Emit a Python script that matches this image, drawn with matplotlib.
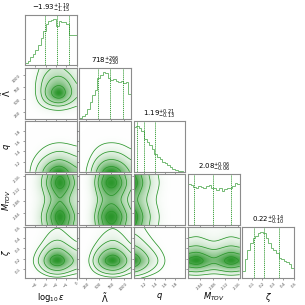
import numpy as np
import matplotlib
matplotlib.use('Agg')
import matplotlib.pyplot as plt
from matplotlib.colors import LinearSegmentedColormap

# parameters of the corner plot
labels = [r'$\log_{10}\epsilon$', r'$\tilde{\Lambda}$', r'$q$', r'$M_{TOV}$', r'$\zeta$']
ranges = [(-5.0, 0.0), (110.0, 1145.0), (1.0, 1.99), (2.0, 2.167), (0.01, 0.50)]
tick_values = [[-4, -3, -2, -1, 0],
               [250, 500, 750, 1000],
               [1.2, 1.4, 1.6, 1.8],
               [2.04, 2.08, 2.12, 2.16],
               [0.1, 0.2, 0.3, 0.4, 0.5]]
tick_labels = [['\u22124', '\u22123', '\u22122', '\u22121', '0'],
               ['250', '500', '750', '1000'],
               ['1.2', '1.4', '1.6', '1.8'],
               ['2.04', '2.08', '2.12', '2.16'],
               ['0.1', '0.2', '0.3', '0.4', '0.5']]

# title numbers (median, +err, -err)
medians = [-1.93, 718, 1.19, 2.08, 0.22]
err_plus = [1.19, 266, 0.21, 0.06, 0.14]
err_minus = [1.15, 230, 0.13, 0.06, 0.10]
title_fmt = ['{:.2f}', '{:.0f}', '{:.2f}', '{:.2f}', '{:.2f}']

# 1d histograms, 20 bins (relative heights)
hist_eps = [0.04, 0.10, 0.17, 0.25, 0.33, 0.45, 0.60, 0.75, 0.90, 0.96,
            0.98, 1.00, 0.85, 0.96, 0.95, 0.94, 0.90, 0.66, 0.66, 0.66]
hist_lam = [0.02, 0.05, 0.10, 0.20, 0.35, 0.50, 0.62, 0.88, 0.95, 1.00,
            0.98, 0.87, 0.84, 0.86, 0.82, 0.80, 0.82, 0.77, 0.80, 0.54]
hist_q = [0.97, 1.00, 0.95, 0.88, 0.72, 0.65, 0.58, 0.50, 0.38, 0.33,
          0.27, 0.22, 0.18, 0.14, 0.10, 0.07, 0.04, 0.02, 0.01, 0.005]
hist_mtov = [0.98, 0.96, 0.92, 0.90, 0.94, 0.92, 0.90, 0.94, 0.96, 0.88,
             0.90, 0.84, 0.88, 0.82, 0.86, 0.90, 0.88, 0.94, 1.00, 0.98]
hist_zeta = [0.16, 0.41, 0.62, 0.76, 0.87, 0.91, 0.98, 1.00, 0.98, 0.87,
             0.76, 0.66, 0.62, 0.55, 0.44, 0.41, 0.37, 0.34, 0.30, 0.23]
hists = [hist_eps, hist_lam, hist_q, hist_mtov, hist_zeta]
hist_top = [1.1, 1.1, 1.1, 1.22, 1.1]

# 2d densities on a 7x7 grid, rows from top of panel to bottom
dens_lam_eps = [[0.2, 1.0, 2.5, 3.2, 3.4, 2.8, 1.8],
                [0.3, 1.4, 3.2, 4.2, 4.6, 3.9, 2.6],
                [0.3, 1.6, 3.6, 5.2, 6.2, 4.8, 3.2],
                [0.3, 1.6, 3.7, 6.6, 9.5, 5.5, 3.4],
                [0.25, 1.3, 3.0, 4.5, 5.0, 4.0, 2.8],
                [0.12, 0.6, 1.3, 1.8, 2.0, 1.7, 1.2],
                [0.03, 0.12, 0.25, 0.3, 0.35, 0.3, 0.25]]
dens_q_eps = [[0.0, 0.02, 0.05, 0.07, 0.08, 0.07, 0.05],
              [0.01, 0.07, 0.14, 0.22, 0.25, 0.22, 0.17],
              [0.03, 0.22, 0.45, 0.7, 0.8, 0.7, 0.55],
              [0.08, 0.6, 1.25, 1.9, 2.2, 1.9, 1.5],
              [0.15, 1.1, 2.3, 3.4, 4.0, 3.4, 2.6],
              [0.25, 1.9, 4.0, 6.0, 7.0, 5.8, 4.4],
              [0.3, 2.5, 5.5, 8.5, 10.0, 8.0, 6.0]]
dens_q_lam = [[0.0, 0.01, 0.05, 0.07, 0.08, 0.06, 0.04],
              [0.01, 0.05, 0.15, 0.24, 0.25, 0.2, 0.13],
              [0.02, 0.15, 0.5, 0.75, 0.8, 0.65, 0.42],
              [0.05, 0.42, 1.35, 2.1, 2.2, 1.8, 1.15],
              [0.09, 0.75, 2.5, 3.8, 4.0, 3.3, 2.1],
              [0.15, 1.3, 4.3, 6.7, 7.0, 5.7, 3.6],
              [0.2, 1.8, 6.0, 9.5, 10.0, 8.0, 5.0]]
dens_mtov_eps = [[0.26, 1.7, 3.8, 6.4, 8.5, 6.8, 4.25],
                 [0.3, 2.0, 4.5, 7.5, 10.0, 8.0, 5.0],
                 [0.26, 1.7, 3.8, 6.4, 8.5, 6.8, 4.25],
                 [0.22, 1.44, 3.24, 5.4, 7.2, 5.76, 3.6],
                 [0.26, 1.7, 3.8, 6.4, 8.5, 6.8, 4.25],
                 [0.3, 2.0, 4.5, 7.5, 10.0, 8.0, 5.0],
                 [0.26, 1.76, 3.96, 6.6, 8.8, 7.04, 4.4]]
dens_mtov_lam = [[0.17, 1.53, 5.1, 8.08, 8.5, 6.8, 4.25],
                 [0.2, 1.8, 6.0, 9.5, 10.0, 8.0, 5.0],
                 [0.17, 1.53, 5.1, 8.08, 8.5, 6.8, 4.25],
                 [0.14, 1.3, 4.32, 6.84, 7.2, 5.76, 3.6],
                 [0.17, 1.53, 5.1, 8.08, 8.5, 6.8, 4.25],
                 [0.2, 1.8, 6.0, 9.5, 10.0, 8.0, 5.0],
                 [0.18, 1.58, 5.28, 8.36, 8.8, 7.04, 4.4]]
dens_mtov_q = [[8.5, 5.95, 3.4, 1.87, 0.68, 0.21, 0.07],
               [10.0, 7.0, 4.0, 2.2, 0.8, 0.25, 0.08],
               [8.5, 5.95, 3.4, 1.87, 0.68, 0.21, 0.07],
               [7.2, 5.04, 2.88, 1.58, 0.58, 0.18, 0.06],
               [8.5, 5.95, 3.4, 1.87, 0.68, 0.21, 0.07],
               [10.0, 7.0, 4.0, 2.2, 0.8, 0.25, 0.08],
               [8.8, 6.16, 3.52, 1.94, 0.7, 0.22, 0.07]]
dens_zeta_eps = [[0.05, 0.36, 0.86, 1.62, 1.8, 1.26, 0.86],
                 [0.08, 0.52, 1.25, 2.34, 2.6, 1.82, 1.25],
                 [0.12, 0.8, 1.92, 3.6, 4.0, 2.8, 1.92],
                 [0.21, 1.4, 3.36, 6.3, 7.0, 4.9, 3.36],
                 [0.3, 2.0, 4.8, 9.0, 10.0, 7.0, 4.8],
                 [0.18, 1.2, 2.88, 5.4, 6.0, 4.2, 2.88],
                 [0.02, 0.16, 0.38, 0.72, 0.8, 0.56, 0.38]]
dens_zeta_lam = [[0.03, 0.27, 0.9, 1.53, 1.8, 1.35, 0.72],
                 [0.04, 0.39, 1.3, 2.21, 2.6, 1.95, 1.04],
                 [0.06, 0.6, 2.0, 3.4, 4.0, 3.0, 1.6],
                 [0.11, 1.05, 3.5, 5.95, 7.0, 5.25, 2.8],
                 [0.15, 1.5, 5.0, 8.5, 10.0, 7.5, 4.0],
                 [0.09, 0.9, 3.0, 5.1, 6.0, 4.5, 2.4],
                 [0.01, 0.12, 0.4, 0.68, 0.8, 0.6, 0.32]]
dens_zeta_q = [[1.8, 1.26, 0.72, 0.4, 0.14, 0.05, 0.01],
               [2.6, 1.82, 1.04, 0.57, 0.21, 0.07, 0.02],
               [4.0, 2.8, 1.6, 0.88, 0.32, 0.1, 0.03],
               [7.0, 4.9, 2.8, 1.54, 0.56, 0.18, 0.06],
               [10.0, 7.0, 4.0, 2.2, 0.8, 0.25, 0.08],
               [6.0, 4.2, 2.4, 1.32, 0.48, 0.15, 0.05],
               [0.8, 0.56, 0.32, 0.18, 0.06, 0.02, 0.01]]
dens_zeta_mtov = [[1.58, 1.8, 1.53, 1.3, 1.53, 1.8, 1.53],
                  [2.29, 2.6, 2.21, 1.87, 2.21, 2.6, 2.21],
                  [3.52, 4.0, 3.4, 2.88, 3.4, 4.0, 3.4],
                  [6.16, 7.0, 5.95, 5.04, 5.95, 7.0, 5.95],
                  [8.8, 10.0, 8.5, 7.2, 8.5, 10.0, 8.5],
                  [5.28, 6.0, 5.1, 4.32, 5.1, 6.0, 5.1],
                  [0.7, 0.8, 0.68, 0.58, 0.68, 0.8, 0.68]]

densities = {
    (1, 0): dens_lam_eps,
    (2, 0): dens_q_eps, (2, 1): dens_q_lam,
    (3, 0): dens_mtov_eps, (3, 1): dens_mtov_lam, (3, 2): dens_mtov_q,
    (4, 0): dens_zeta_eps, (4, 1): dens_zeta_lam, (4, 2): dens_zeta_q, (4, 3): dens_zeta_mtov,
}

color = '#2a962a'
density_cmap = LinearSegmentedColormap.from_list('density_cmap', [(1, 1, 1, 0), color])


def smooth_grid(grid, n=61, sigma=4.0):
    g = np.array(grid, dtype=float)[::-1]
    src = np.linspace(0, 1, g.shape[0])
    dst = np.linspace(0, 1, n)
    g = np.array([np.interp(dst, src, row) for row in g])
    g = np.array([np.interp(dst, src, col) for col in g.T]).T
    r = int(3 * sigma)
    k = np.exp(-0.5 * (np.arange(-r, r + 1) / sigma) ** 2)
    k /= k.sum()
    p = np.pad(g, r, mode='edge')
    p = np.apply_along_axis(lambda v: np.convolve(v, k, mode='valid'), 0, p)
    p = np.apply_along_axis(lambda v: np.convolve(v, k, mode='valid'), 1, p)
    return p


def sigma_levels(d):
    fracs = 1.0 - np.exp(-0.5 * np.arange(0.5, 2.1, 0.5) ** 2)
    flat = np.sort(d.ravel())[::-1]
    cum = np.cumsum(flat)
    cum /= cum[-1]
    return sorted(flat[np.searchsorted(cum, f)] for f in fracs)


def style_axis(ax, i, j, n):
    for s in ax.spines.values():
        s.set_color('0.55')
        s.set_linewidth(0.8)
    ax.tick_params(length=1.5, width=0.4, pad=0.8, labelsize=2.8, colors='0.3')
    ax.set_xticks(tick_values[j])
    if i == n - 1:
        ax.set_xticklabels(tick_labels[j], rotation=45)
        ax.set_xlabel(labels[j], fontsize=6.0)
        ax.xaxis.set_label_coords(0.5, -0.25)
    else:
        ax.set_xticklabels([])
    if i != j:
        ax.set_yticks(tick_values[i])
        if j == 0:
            ax.set_yticklabels(tick_labels[i], rotation=45)
            ax.set_ylabel(labels[i], fontsize=6.0)
            ax.yaxis.set_label_coords(-0.23, 0.5)
        else:
            ax.set_yticklabels([])


n = len(labels)
fig, axes = plt.subplots(n, n, figsize=(3.05, 3.05), dpi=100)
plt.subplots_adjust(left=0.082, right=0.964, bottom=0.088, top=0.952, wspace=0.05, hspace=0.05)

for i in range(n):
    for j in range(n):
        ax = axes[i, j]
        if j > i:
            ax.axis('off')
            continue
        if i == j:
            lo, hi = ranges[i]
            edges = np.linspace(lo, hi, len(hists[i]) + 1)
            ax.stairs(hists[i], edges, color=color, lw=0.7, alpha=0.65)
            ax.set_ylim(0, hist_top[i] * max(hists[i]))
            ax.set_yticks([])
            m = medians[i]
            for v in [m - err_minus[i], m, m + err_plus[i]]:
                ax.axvline(v, color=color, ls='--', lw=0.6, dashes=(1.5, 1.0))
            f = title_fmt[i]
            title = r'${}^{{+{}}}_{{-{}}}$'.format(f.format(m), f.format(err_plus[i]), f.format(err_minus[i]))
            ax.set_title(title, fontsize=5.0, pad=0.5)
        else:
            d = smooth_grid(densities[(i, j)])
            x0, x1 = ranges[j]
            y0, y1 = ranges[i]
            ax.imshow(d, origin='lower', extent=[x0, x1, y0, y1], aspect='auto',
                      cmap=density_cmap, vmin=0, vmax=d.max(), interpolation='bilinear')
            X, Y = np.meshgrid(np.linspace(x0, x1, d.shape[1]), np.linspace(y0, y1, d.shape[0]))
            ax.contour(X, Y, d, sigma_levels(d), colors=color, linewidths=0.55)
            ax.set_ylim(y0, y1)
        ax.set_xlim(ranges[j])
        style_axis(ax, i, j, n)

plt.savefig('out.png', dpi=100)
